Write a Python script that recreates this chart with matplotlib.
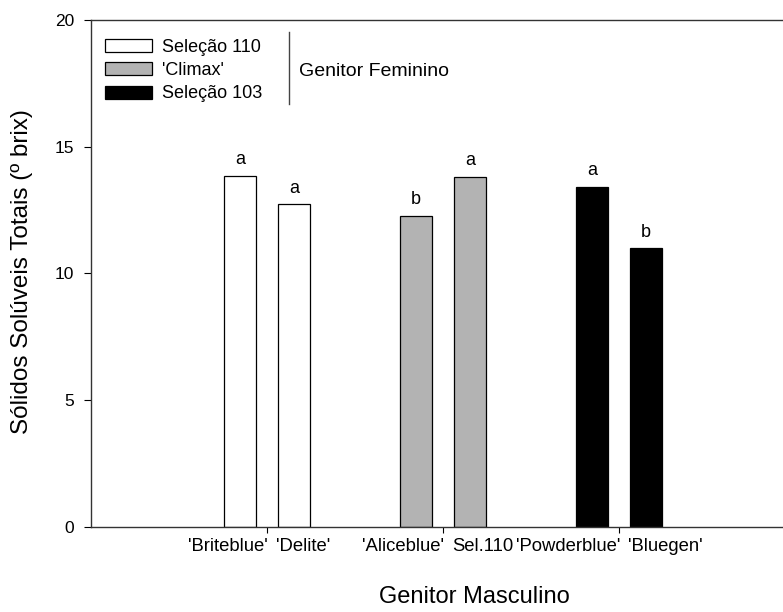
import matplotlib
matplotlib.use("Agg")
from matplotlib import pyplot as plt
from matplotlib.lines import Line2D
import numpy as np

plt.rcParams['font.family'] = ['Liberation Sans', 'DejaVu Sans']

# data
groups = ['Seleção 110', "'Climax'", 'Seleção 103']
males = ["'Briteblue'", "'Delite'", "'Aliceblue'", 'Sel.110', "'Powderblue'", "'Bluegen'"]
brix = [13.86, 12.73, 12.27, 13.82, 13.42, 10.99]
letters = ['a', 'a', 'b', 'a', 'a', 'b']
colors = ['white', '#b3b3b3', 'black']

fig = plt.figure(figsize=(7.83, 6.12), dpi=100)
ax = fig.add_axes([91/783, 85/612, 704/783, 507/612])

centers = np.arange(1, 4)
off = 0.153
w = 0.18
handles = []
for i, c in enumerate(centers):
    xs = [c - off, c + off]
    vals = brix[2*i:2*i+2]
    b = ax.bar(xs, vals, width=w, color=colors[i], edgecolor='black', linewidth=0.9)
    handles.append(b)
    for x, v, l in zip(xs, vals, letters[2*i:2*i+2]):
        ax.text(x, v + 0.3, l, ha='center', va='bottom', fontsize=13)

ax.set_xlim(0, 4)
ax.set_ylim(0, 20)
ax.set_yticks([0, 5, 10, 15, 20])
ax.tick_params(axis='y', direction='out', length=5, labelsize=12.5, pad=7)

# group ticks, labels pushed to either side of them
ax.set_xticks(centers)
ax.set_xticklabels([])
ax.tick_params(axis='x', which='major', direction='out', length=4)
labpos = np.concatenate([[c + 0.005, c + 0.05] for c in centers])
ax.set_xticks(labpos, minor=True)
ax.set_xticklabels(males, minor=True)
for k, t in enumerate(ax.get_xticklabels(minor=True)):
    t.set_ha('right' if k % 2 == 0 else 'left')
ax.tick_params(axis='x', which='minor', length=0, labelsize=13.3, pad=8)

for s in ax.spines.values():
    s.set_linewidth(1.0)
    s.set_color('#333333')

ax.set_ylabel('Sólidos Solúveis Totais (º brix)', fontsize=17.5)
ax.yaxis.set_label_coords(-0.082, 0.503)
ax.set_xlabel('Genitor Masculino', fontsize=17)
ax.xaxis.set_label_coords(0.545, -0.117)

leg = ax.legend(handles, groups, loc='upper left', bbox_to_anchor=(-0.003, 0.995),
                frameon=False, fontsize=13, handlelength=2.6, handleheight=0.72,
                labelspacing=0.35, handletextpad=0.55, borderaxespad=0.5)

fig.add_artist(Line2D([289/783, 289/783], [1 - 32/612, 1 - 104/612],
                      color='#444444', linewidth=1.0, transform=fig.transFigure))
fig.text(299/783, 1 - 72/612, 'Genitor Feminino', fontsize=14, va='center', ha='left')

fig.savefig('out.png', dpi=100)
